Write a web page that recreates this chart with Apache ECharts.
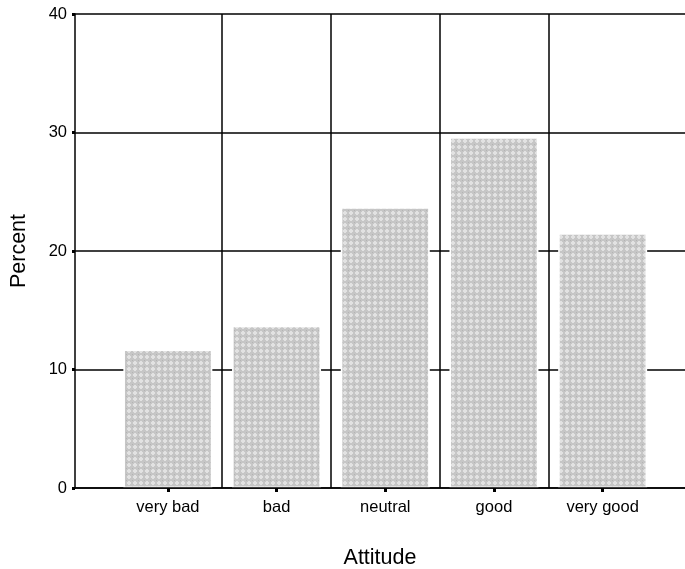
<!DOCTYPE html>
<html>
<head>
<meta charset="utf-8">
<script src="https://cdn.jsdelivr.net/npm/echarts@6/dist/echarts.min.js"></script>
<style>
html,body{margin:0;padding:0;background:#fff;}
#chart{width:685px;height:569px;}
</style>
</head>
<body>
<div id="chart"></div>
<script>
var categories = ['very bad', 'bad', 'neutral', 'good', 'very good'];
var percentValues = [11.7, 13.7, 23.7, 29.6, 21.5];
var yTicks = [0, 10, 20, 30, 40];

function makePattern() {
  var c = document.createElement('canvas');
  c.width = 6; c.height = 6;
  var ctx = c.getContext('2d');
  ctx.fillStyle = '#c6c6c6';
  ctx.fillRect(0, 0, 6, 6);
  ctx.fillStyle = '#e2e2e2';
  ctx.fillRect(2, 1, 2, 1);
  ctx.fillRect(1, 2, 4, 2);
  ctx.fillRect(2, 4, 2, 1);
  ctx.fillStyle = '#b4b4b4';
  ctx.fillRect(0, 0, 1, 1);
  return c;
}

var font = '"Liberation Sans", Arial, sans-serif';
var chart = echarts.init(document.getElementById('chart'), null, {renderer: 'canvas'});
chart.setOption({
  animation: false,
  backgroundColor: '#fff',
  grid: [
    {left: 75, right: 0, top: 14, bottom: 81, containLabel: false, outerBoundsMode: 'none'},
    {left: 113.5, right: 28, top: 14, bottom: 81, containLabel: false, outerBoundsMode: 'none'}
  ],
  graphic: [{
    type: 'text', x: 380, y: 558,
    style: {text: 'Attitude', font: '21.5px ' + font, fill: '#000', textAlign: 'center', textVerticalAlign: 'middle'}
  }],
  xAxis: [
    {
      gridIndex: 0, type: 'value', min: 0, max: 1, z: 10,
      axisLine: {show: true, lineStyle: {color: '#000', width: 1.5}},
      axisTick: {show: false}, axisLabel: {show: false}, splitLine: {show: false}
    },
    {
      gridIndex: 1, type: 'category', data: categories, boundaryGap: true,
      axisLine: {show: false},
      axisTick: {show: true, alignWithLabel: true, length: 4, lineStyle: {color: '#000', width: 3}},
      axisLabel: {color: '#000', fontSize: 16.5, fontFamily: font, margin: 11},
      splitLine: {show: true, showMinLine: false, showMaxLine: false, lineStyle: {color: '#000', width: 1.5}}
    }
  ],
  yAxis: [
    {
      gridIndex: 0, type: 'value', min: yTicks[0], max: yTicks[yTicks.length - 1], interval: yTicks[1] - yTicks[0],
      name: 'Percent', nameLocation: 'middle', nameGap: 45,
      nameTextStyle: {color: '#000', fontSize: 21.5, fontFamily: font},
      axisLine: {show: true, lineStyle: {color: '#000', width: 1.5}},
      axisTick: {show: true, length: 3, lineStyle: {color: '#000', width: 3}},
      axisLabel: {color: '#000', fontSize: 16.5, fontFamily: font, margin: 8},
      splitLine: {show: true, lineStyle: {color: '#000', width: 1.5}}
    },
    {
      gridIndex: 1, type: 'value', min: yTicks[0], max: yTicks[yTicks.length - 1],
      show: false, splitLine: {show: false}
    }
  ],
  series: [{
    type: 'bar', xAxisIndex: 1, yAxisIndex: 1,
    data: percentValues, barWidth: 89,
    itemStyle: {color: {image: makePattern(), repeat: 'repeat'}, borderColor: '#fff', borderWidth: 1.6}
  }]
});
</script>
</body>
</html>
